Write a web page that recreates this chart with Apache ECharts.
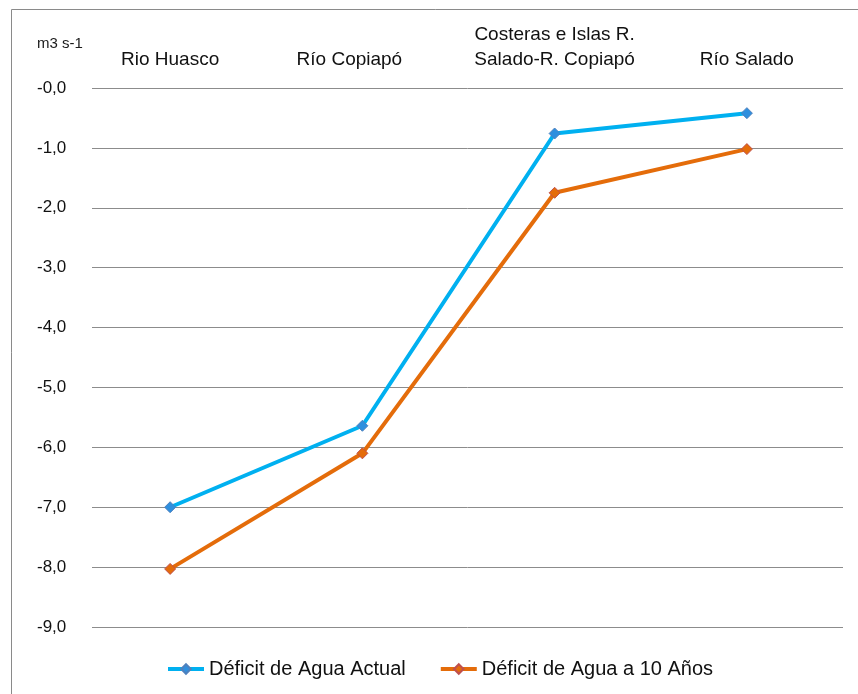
<!doctype html>
<html>
<head>
<meta charset="UTF-8">
<title>Déficit de agua</title>
<style>
  html, body { margin: 0; padding: 0; background: #fff; }
  #chart { width: 858px; height: 694px; }
</style>
</head>
<body>
<div id="chart"></div>
<script src="https://cdn.jsdelivr.net/npm/echarts@6/dist/echarts.min.js"></script>
<script>
// categorias y valores (m3 s-1)
var cuencas = ['Rio Huasco', 'Río Copiapó', 'Costeras e Islas R.\nSalado-R. Copiapó', 'Río Salado'];
var deficitActual = [-7.0, -5.64, -0.76, -0.42];
var deficit10 = [-8.03, -6.1, -1.75, -1.02];
var nombres = ['Déficit de Agua Actual', 'Déficit de Agua a 10 Años'];
var yMin = -9, yMax = 0, yPaso = 1;

var font = '"Liberation Sans Narrow", "Liberation Sans", Arial, sans-serif';
var chart = echarts.init(document.getElementById('chart'));

function fmt(v) {
  return '-' + Math.abs(v).toFixed(1).replace('.', ',');
}

var option = {
  backgroundColor: '#fff',
  animation: false,
  graphic: [
    // marco del grafico
    { type: 'rect', shape: { x: 11.5, y: 9.5, width: 900, height: 720 },
      style: { fill: 'none', stroke: '#8a8a8a', lineWidth: 1 } },
    { type: 'text', left: 37, top: 36,
      style: { text: 'm3 s-1', font: '15px ' + font, fill: '#1a1a1a' } }
  ],
  legend: {
    bottom: 15,
    left: 166,
    padding: 0,
    itemGap: 33,
    itemWidth: 36,
    itemHeight: 12,
    lineStyle: { width: 4 },
    textStyle: { fontFamily: font, fontSize: 20, color: '#111' },
    data: nombres
  },
  grid: [
    { left: 92, right: 15, top: 88, bottom: 67 },
    { left: 74, right: 15, top: 88, bottom: 67 }
  ],
  xAxis: [
    { gridIndex: 0, type: 'category', data: cuencas, show: false },
    {
      gridIndex: 1,
      type: 'category',
      position: 'top',
      data: cuencas.map(function (c, i) {
        return i === 1 ? { value: c, textStyle: { padding: [0, 26, 0, 0] } } : c;
      }),
      axisLine: { show: false },
      axisTick: { show: false },
      axisLabel: { margin: 16, fontFamily: font, fontSize: 19, color: '#111', lineHeight: 25, interval: 0 }
    }
  ],
  yAxis: [
    {
      gridIndex: 0,
      type: 'value',
      min: yMin, max: yMax, interval: yPaso,
      axisLine: { show: false },
      axisTick: { show: false },
      splitLine: { lineStyle: { color: '#8c8c8c', width: 1 } },
      axisLabel: {
        align: 'left', margin: 55,
        fontFamily: font, fontSize: 17, color: '#111',
        formatter: fmt
      }
    },
    {
      gridIndex: 1,
      type: 'value',
      min: yMin, max: yMax, interval: yPaso,
      show: false
    }
  ],
  series: [
    {
      name: nombres[0], type: 'line',
      xAxisIndex: 1, yAxisIndex: 1,
      data: deficitActual,
      symbol: 'diamond', symbolSize: 11,
      lineStyle: { color: '#00b0f0', width: 4 },
      itemStyle: { color: '#2f8fde', borderColor: '#4f81bd', borderWidth: 1 },
      color: '#00b0f0'
    },
    {
      name: nombres[1], type: 'line',
      xAxisIndex: 1, yAxisIndex: 1,
      data: deficit10,
      symbol: 'diamond', symbolSize: 11,
      lineStyle: { color: '#e46c0a', width: 4 },
      itemStyle: { color: '#e46c0a', borderColor: '#c0504d', borderWidth: 1 },
      color: '#e46c0a'
    }
  ]
};

chart.setOption(option);
</script>
</body>
</html>
